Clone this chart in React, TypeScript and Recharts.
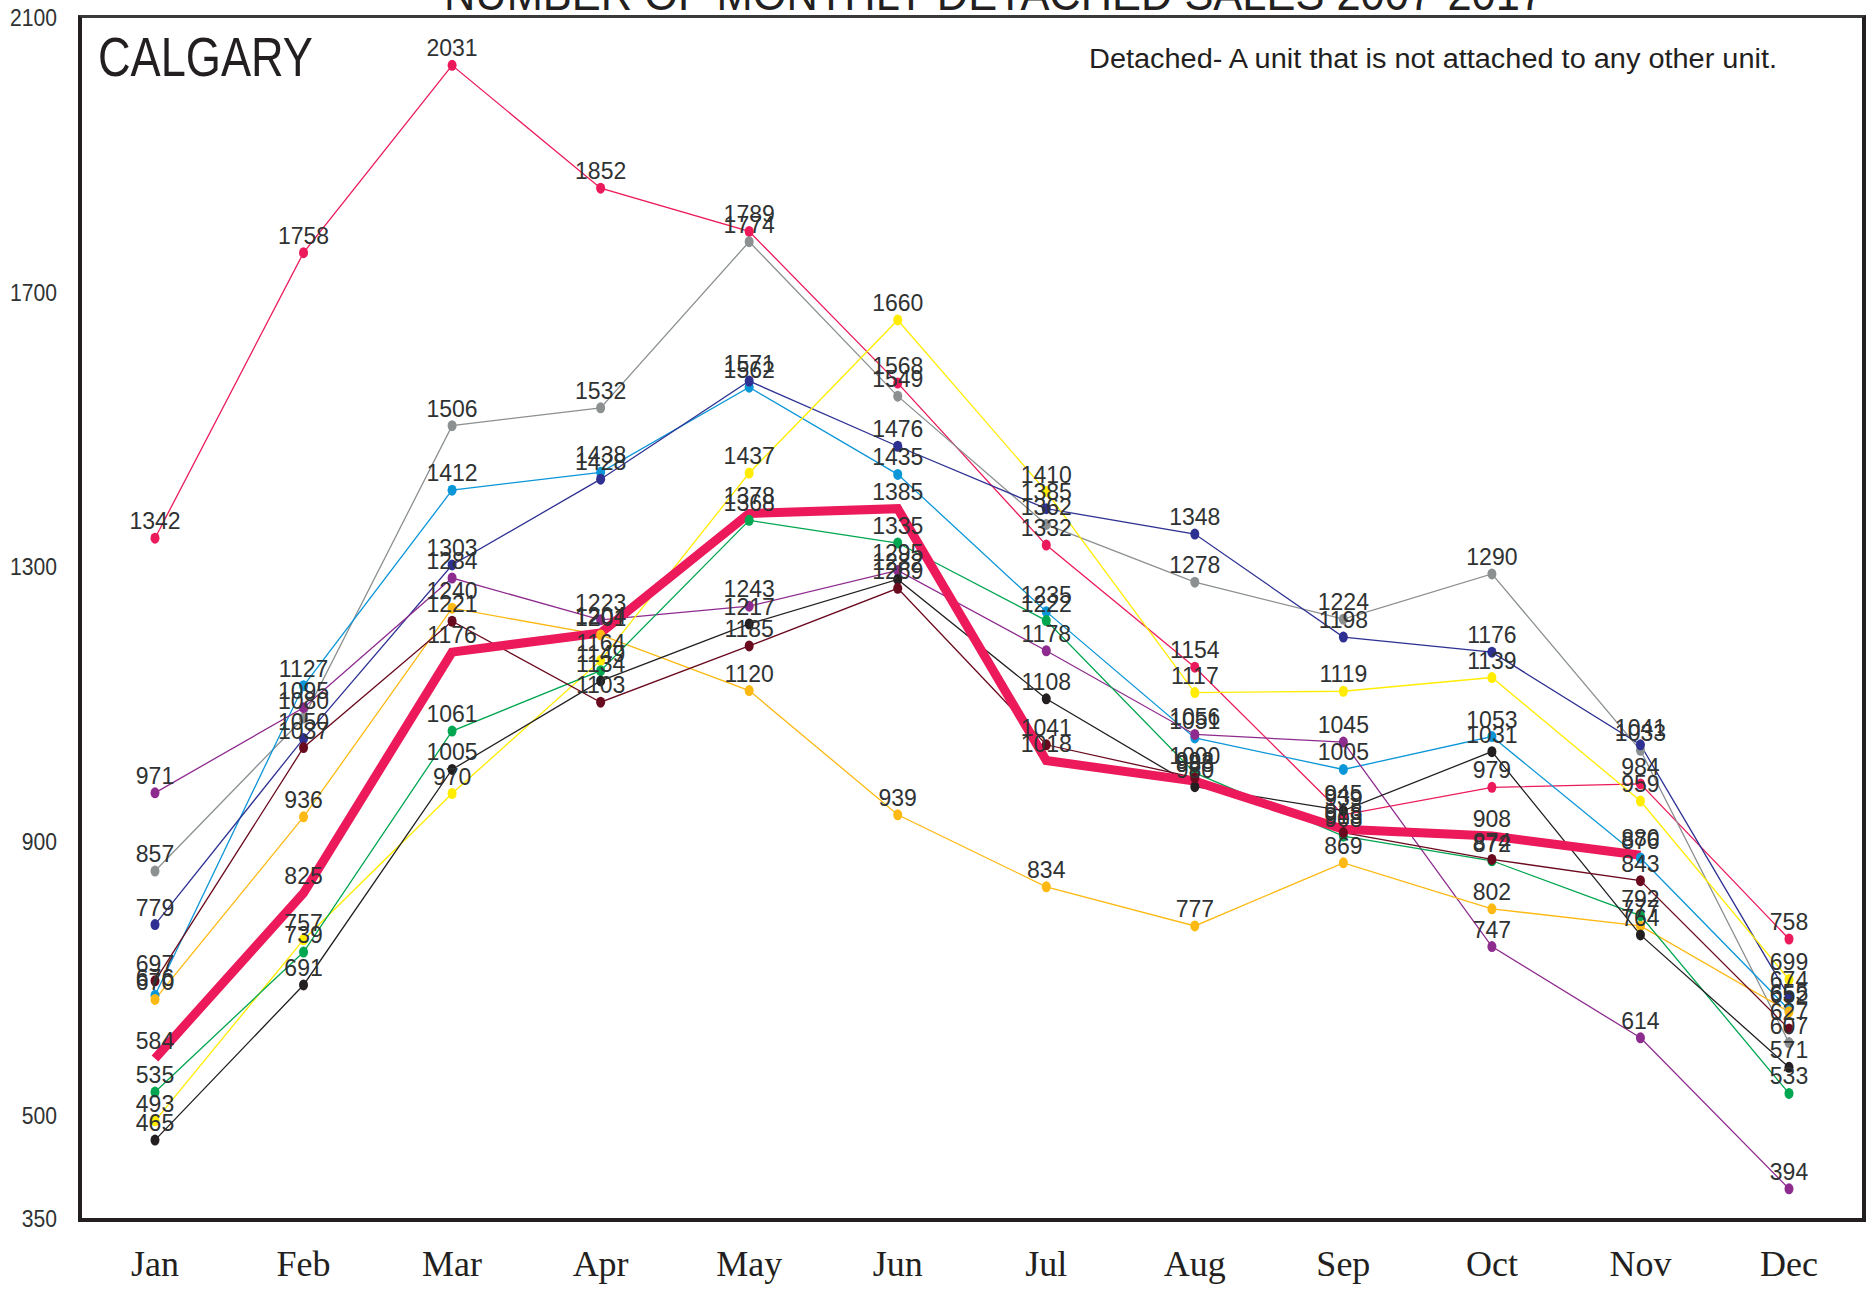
import React from 'react';
import { LineChart, Line, XAxis, YAxis, LabelList } from 'recharts';

// monthly detached sales
const months = ['Jan', 'Feb', 'Mar', 'Apr', 'May', 'Jun', 'Jul', 'Aug', 'Sep', 'Oct', 'Nov', 'Dec'];
const yTicks = [350, 500, 900, 1300, 1700, 2100];

const pinkSales = [1342, 1758, 2031, 1852, 1789, 1568, 1332, 1154, 939, 979, 984, 758];
const graySales = [857, 1080, 1506, 1532, 1774, 1549, 1362, 1278, 1224, 1290, 1033, 607];
const blueSales = [676, 1127, 1412, 1438, 1562, 1435, 1235, 1051, 1005, 1053, 876, 655];
const navySales = [779, 1050, 1303, 1428, 1571, 1476, 1385, 1348, 1198, 1176, 1041, 674];
const purpleSales = [971, 1095, 1284, 1223, 1243, 1295, 1178, 1056, 1045, 747, 614, 394];
const yellowSales = [493, 757, 970, 1164, 1437, 1660, 1410, 1117, 1119, 1139, 959, 699];
const orangeSales = [670, 936, 1240, 1201, 1120, 939, 834, 777, 869, 802, 777, 652];
const greenSales = [535, 739, 1061, 1149, 1368, 1335, 1222, 1000, 908, 872, 792, 533];
const blackSales = [465, 691, 1005, 1134, 1217, 1282, 1108, 980, 945, 1031, 764, 571];
const maroonSales = [697, 1037, 1221, 1103, 1185, 1269, 1041, 993, 913, 874, 843, 627];
const currentSales = [584, 825, 1176, 1204, 1378, 1385, 1018, 988, 918, 908, 880, null];

const thinSeries = [
  { key: 'pink', values: pinkSales, color: '#EC1A5A' },
  { key: 'gray', values: graySales, color: '#8C9091' },
  { key: 'blue', values: blueSales, color: '#0B96D8' },
  { key: 'navy', values: navySales, color: '#2E3192' },
  { key: 'purple', values: purpleSales, color: '#8E2B8E' },
  { key: 'yellow', values: yellowSales, color: '#FFEC00' },
  { key: 'orange', values: orangeSales, color: '#FDB913' },
  { key: 'green', values: greenSales, color: '#00A650' },
  { key: 'black', values: blackSales, color: '#231F20' },
  { key: 'maroon', values: maroonSales, color: '#6A0A1E' },
];

const data = months.map((month, i) => {
  const row: any = { month, current: currentSales[i] };
  thinSeries.forEach(s => { row[s.key] = s.values[i]; });
  return row;
});

const labelFont = '"Liberation Sans", Arial, Helvetica, sans-serif';

const renderDot = (color: string) => (props: any) => {
  const { cx, cy, index } = props;
  if (cx == null || cy == null) return <g key={`d-${index}`} />;
  return <ellipse key={`d-${index}`} cx={cx} cy={cy} rx={4.5} ry={5.5} fill={color} />;
};

const ValueLabel = (props: any) => {
  const { x, y, value } = props;
  if (value == null) return null;
  return (
    <text x={x} y={y - 9} textAnchor="middle" fontSize={23} fontFamily={labelFont} fill="#2F3232">
      {value}
    </text>
  );
};

const YTick = ({ y, payload }: any) => (
  <g transform={`translate(57, ${y + 8}) scale(0.88, 1)`}>
    <text textAnchor="end" fontSize={24} fontFamily={labelFont} fill="#2F3232">{payload.value}</text>
  </g>
);

const XTick = ({ x, payload }: any) => (
  <text x={x} y={1276} textAnchor="middle" fontSize={36}
    fontFamily='"Liberation Serif", "Times New Roman", serif' fill="#231F20">
    {payload.value}
  </text>
);

export default function App() {
  return (
    <div style={{ position: 'absolute', left: 0, top: 0, width: 1866, height: 1290, background: '#fff', overflow: 'hidden' }}>
      <LineChart width={1866} height={1290} data={data} margin={{ top: 18, right: 4, bottom: 0, left: 12 }}>
        <XAxis dataKey="month" axisLine={false} tickLine={false} height={71}
          padding={{ left: 73, right: 73 }} interval={0} tick={<XTick />} />
        <YAxis type="number" domain={[350, 2100]} ticks={yTicks} axisLine={false} tickLine={false}
          width={70} interval={0} tick={<YTick />} allowDataOverflow />
        {thinSeries.map(s => (
          <Line key={s.key} dataKey={s.key} stroke={s.color} strokeWidth={1.3}
            dot={renderDot(s.color)} activeDot={false} isAnimationActive={false} />
        ))}
        <Line dataKey="current" stroke="#EC1A5A" strokeWidth={9} strokeLinejoin="miter"
          strokeLinecap="butt" dot={false} activeDot={false} isAnimationActive={false} />
        {/* labels drawn last so they sit on top of every line */}
        {thinSeries.map(s => (
          <Line key={`lbl-${s.key}`} dataKey={s.key} stroke="none" dot={false} activeDot={false}
            isAnimationActive={false} legendType="none">
            <LabelList dataKey={s.key} content={<ValueLabel />} />
          </Line>
        ))}
        <Line dataKey="current" stroke="none" dot={false} activeDot={false}
          isAnimationActive={false} legendType="none">
          <LabelList dataKey="current" content={<ValueLabel />} />
        </Line>
      </LineChart>

      {/* plot frame */}
      <div style={{
        position: 'absolute', left: 78, top: 15, width: 1780, height: 1200,
        borderLeft: '4px solid #231F20', borderRight: '4px solid #231F20',
        borderBottom: '4px solid #231F20', borderTop: '3px solid #3A3A3A', pointerEvents: 'none',
      }} />

      <svg width={1866} height={1290} style={{ position: 'absolute', left: 0, top: 0, pointerEvents: 'none' }}>
        <text x={444} y={10} fontSize={46} fontFamily={labelFont} fill="#231F20"
          textLength={1100} lengthAdjust="spacingAndGlyphs">
          NUMBER OF MONTHLY DETACHED SALES 2007-2017
        </text>
        <text x={98} y={76} fontSize={56} fontFamily={labelFont} fill="#231F20"
          textLength={215} lengthAdjust="spacingAndGlyphs">
          CALGARY
        </text>
        <text x={1089} y={68} fontSize={27} fontFamily={labelFont} fill="#231F20"
          textLength={688} lengthAdjust="spacingAndGlyphs">
          Detached- A unit that is not attached to any other unit.
        </text>
      </svg>
    </div>
  );
}
